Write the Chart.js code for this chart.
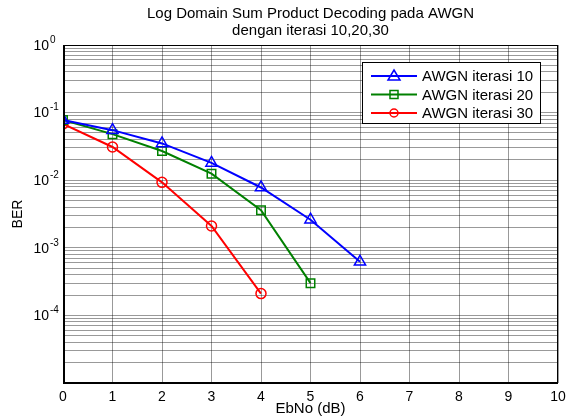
<!DOCTYPE html>
<html>
<head>
<meta charset="utf-8">
<script src="https://cdn.jsdelivr.net/npm/chart.js@4"></script>
<style>
  html, body { margin: 0; padding: 0; background: #fff; }
  canvas { display: block; }
</style>
</head>
<body>
<canvas id="chart" width="572" height="419"></canvas>
<script>
// data
const ebno = [0, 1, 2, 3, 4, 5, 6];
const berIter10 = [0.078, 0.055, 0.035, 0.018, 0.0078, 0.0026, 0.00062];
const berIter20 = [0.078, 0.048, 0.027, 0.0125, 0.0036, 0.0003];
const berIter30 = [0.068, 0.031, 0.0093, 0.0021, 0.00021];
const seriesNames = ['AWGN iterasi 10', 'AWGN iterasi 20', 'AWGN iterasi 30'];
const titleLines = ['Log Domain Sum Product Decoding pada AWGN', 'dengan iterasi 10,20,30'];
const decades = [1e-4, 1e-3, 1e-2, 1e-1, 1];
const decadeExp = ['-4', '-3', '-2', '-1', '0'];

const FONT = '"Liberation Sans", Arial, sans-serif';
const colors = ['#0000ff', '#008000', '#ff0000'];
const markers = ['triangle', 'rect', 'circle'];

const toPoints = (ys) => ys.map((y, i) => ({ x: ebno[i], y: y }));

// MATLAB style labels, box and legend
const matlabDecor = {
  id: 'matlabDecor',
  afterDraw(chart) {
    const ctx = chart.ctx;
    const a = chart.chartArea;
    const ys = chart.scales.y;
    ctx.save();

    // title
    ctx.fillStyle = '#000';
    ctx.font = '15px ' + FONT;
    ctx.textAlign = 'center';
    ctx.textBaseline = 'middle';
    const cx = (a.left + a.right) / 2;
    ctx.fillText(titleLines[0], cx, 14);
    ctx.fillText(titleLines[1], cx, 31);

    // y decade labels 10^n
    decades.forEach((v, i) => {
      const py = ys.getPixelForValue(v);
      ctx.font = '14px ' + FONT;
      ctx.textAlign = 'right';
      ctx.textBaseline = 'middle';
      ctx.fillText('10', 49, py + 1);
      ctx.font = '10px ' + FONT;
      ctx.textAlign = 'left';
      ctx.fillText(decadeExp[i], 50, py - 5);
    });

    // axes box
    ctx.strokeStyle = '#000';
    ctx.lineWidth = 1;
    ctx.strokeRect(a.left + 0.5, a.top + 0.5, a.right - a.left - 1, a.bottom - a.top - 1);
    ctx.lineWidth = 2;
    ctx.beginPath();
    ctx.moveTo(a.left + 1, a.top);
    ctx.lineTo(a.left + 1, a.bottom);
    ctx.lineTo(a.right, a.bottom);
    ctx.stroke();

    // legend
    const lx = 362, ly = 62, lw = 178, lh = 61;
    ctx.fillStyle = '#fff';
    ctx.fillRect(lx, ly, lw, lh);
    ctx.lineWidth = 1;
    ctx.strokeStyle = '#000';
    ctx.strokeRect(lx + 0.5, ly + 0.5, lw, lh);
    seriesNames.forEach((name, i) => {
      const ry = ly + 14 + i * 18.5;
      ctx.strokeStyle = colors[i];
      ctx.lineWidth = 2;
      ctx.beginPath();
      ctx.moveTo(lx + 9, ry);
      ctx.lineTo(lx + 55, ry);
      ctx.stroke();
      ctx.lineWidth = 1.5;
      ctx.fillStyle = '#fff';
      const mx = lx + 32;
      ctx.beginPath();
      if (markers[i] === 'triangle') {
        ctx.moveTo(mx, ry - 6);
        ctx.lineTo(mx + 6, ry + 4);
        ctx.lineTo(mx - 6, ry + 4);
        ctx.closePath();
      } else if (markers[i] === 'rect') {
        ctx.rect(mx - 4, ry - 4, 8, 8);
      } else {
        ctx.arc(mx, ry, 4, 0, Math.PI * 2);
      }
      ctx.stroke();
      ctx.fillStyle = '#000';
      ctx.font = '15px ' + FONT;
      ctx.textAlign = 'left';
      ctx.textBaseline = 'middle';
      ctx.fillText(name, lx + 60, ry + 1);
    });
    ctx.restore();
  }
};

const datasets = [berIter10, berIter20, berIter30].map((ys, i) => ({
  label: seriesNames[i],
  data: toPoints(ys),
  borderColor: colors[i],
  backgroundColor: 'rgba(0,0,0,0)',
  borderWidth: 2,
  pointStyle: markers[i],
  pointRadius: markers[i] === 'rect' ? 6 : (markers[i] === 'triangle' ? 6.5 : 5),
  pointBorderWidth: 1.5,
  pointBorderColor: colors[i],
  pointBackgroundColor: 'rgba(0,0,0,0)',
  tension: 0
}));

new Chart(document.getElementById('chart'), {
  type: 'line',
  data: { datasets: datasets },
  options: {
    responsive: false,
    animation: false,
    events: [],
    layout: { padding: { top: 45, right: 14, left: 0, bottom: 0 } },
    plugins: { legend: { display: false }, tooltip: { enabled: false } },
    scales: {
      x: {
        type: 'linear',
        min: 0,
        max: 10,
        afterFit: (s) => { s.height = 36; },
        border: { display: false },
        grid: { color: 'rgba(0,0,0,0.4)', lineWidth: 1, drawTicks: false },
        ticks: {
          stepSize: 1,
          padding: 6,
          color: '#000',
          maxRotation: 0,
          font: { family: FONT, size: 14 }
        },
        title: {
          display: true,
          text: 'EbNo (dB)',
          color: '#000',
          font: { family: FONT, size: 15 },
          padding: { top: 0, bottom: 1 }
        }
      },
      y: {
        type: 'logarithmic',
        min: 1e-5,
        max: 1,
        afterFit: (s) => { s.width = 63; },
        afterBuildTicks: (s) => {
          const t = [];
          for (let e = -5; e <= 0; e++) {
            for (let m = 1; m <= 9; m++) {
              const v = m * Math.pow(10, e);
              if (v <= 1.0000001) t.push({ value: v });
            }
          }
          s.ticks = t;
        },
        border: { display: false },
        grid: { color: 'rgba(0,0,0,0.4)', lineWidth: 1, drawTicks: false },
        ticks: { display: false },
        title: {
          display: true,
          text: 'BER',
          color: '#000',
          font: { family: FONT, size: 14 },
          padding: { top: 10, bottom: 0 }
        }
      }
    }
  },
  plugins: [matlabDecor]
});
</script>
</body>
</html>
